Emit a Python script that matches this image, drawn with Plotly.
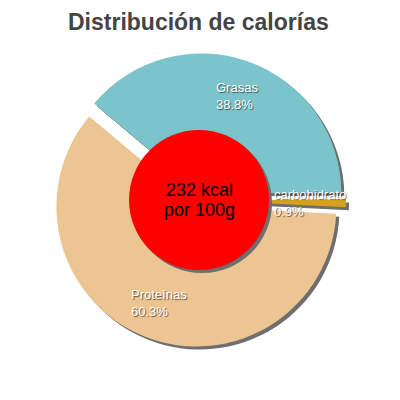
import math
import plotly.graph_objects as go

# slices, clockwise from the upper left
names = ["Grasas", "carbohidrato", "Proteínas"]
values = [38.8, 0.9, 60.3]
colors = ["#7cc4cc", "#d6a21e", "#edc592"]

center_lines = ["232 kcal", "por 100g"]
title = "Distribución de calorías"

page_off = 8           # the page body adds an 8px margin around the figure
W = H = 400 - 2 * page_off
cx, cy = 199 - page_off, 200 - page_off   # pie centre in figure px
R = 140                # pie radius in px
pull = 0.05
rotation = -50
shadow_dx, shadow_dy = 3, 3

half = R * (1 + pull)
dom_x = [(cx - half) / W, (cx + half) / W]
dom_y = [1 - (cy + half) / H, 1 - (cy - half) / H]

fig = go.Figure()

# drop shadow: same pie in grey, nudged down-right
fig.add_trace(go.Pie(
    labels=names, values=values, sort=False, direction="clockwise",
    rotation=rotation, pull=[pull] * len(values),
    marker=dict(colors=["#6e6e6e"] * len(values), line=dict(width=0)),
    textinfo="none", hoverinfo="skip", showlegend=False,
    domain=dict(x=[d + shadow_dx / W for d in dom_x],
                y=[d - shadow_dy / H for d in dom_y]),
))

fig.add_trace(go.Pie(
    labels=names, values=values, sort=False, direction="clockwise",
    rotation=rotation, pull=[pull] * len(values),
    marker=dict(colors=colors, line=dict(width=0)),
    textinfo="none", hoverinfo="label+percent", showlegend=False,
    domain=dict(x=dom_x, y=dom_y),
))

# centre disc with its shadow
rc = 70
fig.add_shape(type="circle", xref="paper", yref="paper", layer="above",
              x0=(cx - rc + shadow_dx) / W, x1=(cx + rc + shadow_dx) / W,
              y0=1 - (cy + rc + shadow_dy) / H, y1=1 - (cy - rc + shadow_dy) / H,
              fillcolor="#6e6e6e", line=dict(width=0))
fig.add_shape(type="circle", xref="paper", yref="paper", layer="above",
              x0=(cx - rc) / W, x1=(cx + rc) / W,
              y0=1 - (cy + rc) / H, y1=1 - (cy - rc) / H,
              fillcolor="#ff0000", line=dict(width=0))

for i, line in enumerate(center_lines):
    fig.add_annotation(text=line, xref="paper", yref="paper",
                       x=cx / W, y=1 - (cy - 10 + 20 * i) / H,
                       showarrow=False, xanchor="center", yanchor="middle",
                       font=dict(family="Liberation Sans, Arial", size=18, color="black"))

# slice labels at the middle angle of each slice
total = sum(values)
start = 90 - rotation
cum = 0
for name, v in zip(names, values):
    mid = math.radians(start - 360 * (cum + v / 2) / total)
    cum += v
    d = R * (0.74 + pull)
    lx = cx + d * math.cos(mid)
    ly = cy - d * math.sin(mid)
    fig.add_annotation(text=f"{name}<br>{100 * v / total:.1f}%",
                       xref="paper", yref="paper", x=lx / W, y=1 - ly / H,
                       showarrow=False, xanchor="center", yanchor="middle", align="left",
                       font=dict(family="Liberation Sans, Arial", size=13, color="white",
                                 shadow="1px 1px 1px rgba(0,0,0,0.6)"))

# title as a plain annotation at the top edge
fig.add_annotation(text=f"<b>{title}</b>", xref="paper", yref="paper",
                   x=(198 - page_off) / W, y=1, xanchor="center", yanchor="top",
                   showarrow=False, borderpad=0,
                   font=dict(family="Liberation Sans, Arial", size=23, color="#444444"))

fig.update_layout(
    width=W, height=H,
    margin=dict(l=0, r=0, t=0, b=0),
    paper_bgcolor="white",
    plot_bgcolor="white",
)

fig.write_html("out.html")
